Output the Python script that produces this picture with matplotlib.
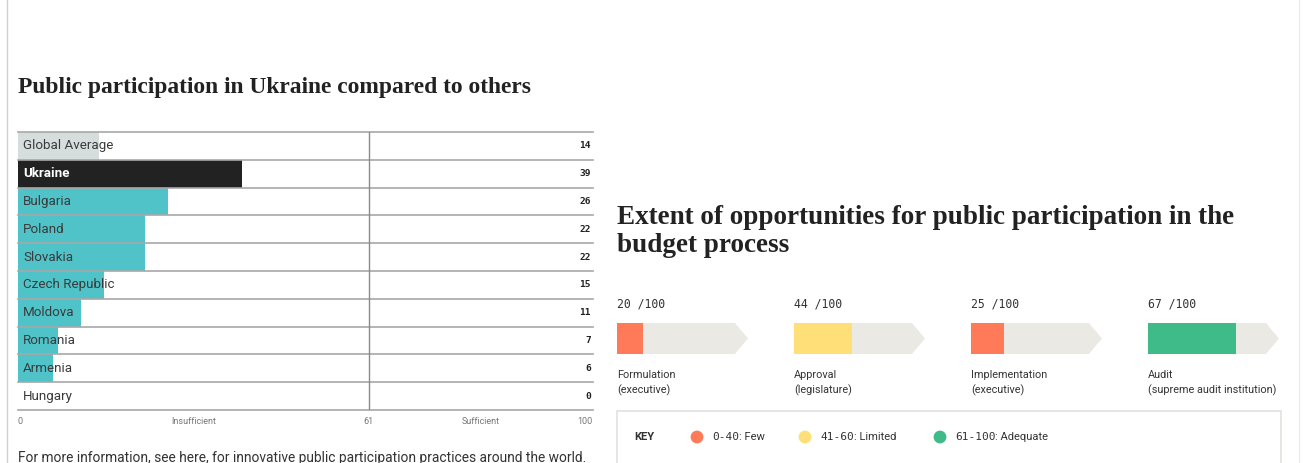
import matplotlib
matplotlib.use("Agg")
import matplotlib.pyplot as plt
from matplotlib.patches import Polygon, Rectangle

# left chart data
countries = ["Global Average", "Ukraine", "Bulgaria", "Poland", "Slovakia",
             "Czech Republic", "Moldova", "Romania", "Armenia", "Hungary"]
scores = [14, 39, 26, 22, 22, 15, 11, 7, 6, 0]
bar_colors = ["#d5dedd", "#222222"] + ["#50c3c9"] * 8
threshold = 61

# right chart data
stages = ["Formulation", "Approval", "Implementation", "Audit"]
stage_sub = ["(executive)", "(legislature)", "(executive)", "(supreme audit institution)"]
stage_scores = [20, 44, 25, 67]
key_ranges = ["0-40", "41-60", "61-100"]
key_names = [": Few", ": Limited", ": Adequate"]
key_colors = ["#ff7a59", "#ffdf78", "#3fba89"]


def band_color(v):
    if v <= 40:
        return key_colors[0]
    if v <= 60:
        return key_colors[1]
    return key_colors[2]


W, H = 1304, 463
fig = plt.figure(figsize=(W / 100, H / 100), dpi=100)
fig.patch.set_facecolor("white")


def box(x0, y0, x1, y1):
    # pixel box (top-left origin) -> figure rect
    return [x0 / W, 1 - y1 / H, (x1 - x0) / W, (y1 - y0) / H]


sans = "Roboto"
serif = "Liberation Serif"
mono = "DejaVu Sans Mono"

# page borders
fig.add_artist(plt.Line2D([7 / W, 7 / W], [0, 1], color="#cfcfcf", lw=1))
fig.add_artist(plt.Line2D([1299 / W, 1299 / W], [0, 1], color="#ececec", lw=1))

# ---------- left: horizontal bars ----------
fig.text(18 / W, 1 - 87 / H, "Public participation in Ukraine compared to others",
         fontsize=16.9, fontweight="bold", family=serif, color="#222222",
         ha="left", va="center")

ax = fig.add_axes(box(18, 132, 593, 410))
y = list(range(len(countries)))
ax.barh(y, scores, height=1.0, color=bar_colors, zorder=1)
ax.set_xlim(0, 100)
ax.set_ylim(len(countries) - 0.5, -0.5)
for i in range(len(countries) + 1):
    ax.axhline(i - 0.5, color="#a8a8a8", lw=1.2, zorder=2, clip_on=False)
ax.axvline(threshold, color="#8a8a8a", lw=1, zorder=2)
for i, (c, s) in enumerate(zip(countries, scores)):
    ax.text(0.9, i, c, fontsize=9.6, family=sans, va="center", ha="left",
            color="white" if c == "Ukraine" else "#3a3a3a",
            fontweight="bold" if c == "Ukraine" else "normal", zorder=3)
    ax.text(99.6, i, str(s), fontsize=6.8, family=mono, fontweight="bold",
            va="center", ha="right", color="#222222", zorder=3)
ax.axis("off")

# scale labels under the bars
lab_kw = dict(fontsize=6.5, family=sans, color="#777777", va="center",
              transform=ax.get_xaxis_transform())
ty = -11 / 278
ax.text(0, ty, "0", ha="left", **lab_kw)
ax.text(threshold / 2, ty, "Insufficient", ha="center", **lab_kw)
ax.text(threshold, ty, str(threshold), ha="center", **lab_kw)
ax.text((threshold + 100) / 2, ty, "Sufficient", ha="center", **lab_kw)
ax.text(100, ty, "100", ha="right", **lab_kw)

fig.text(18 / W, 1 - 458 / H,
         "For more information, see here, for innovative public participation practices around the world.",
         fontsize=9.95, family=sans, color="#333333", ha="left", va="center")

# ---------- right: stage arrows ----------
fig.text(617 / W, 1 - 218 / H, "Extent of opportunities for public participation in the",
         fontsize=19.5, fontweight="bold", family=serif, color="#222222",
         ha="left", va="center")
fig.text(617 / W, 1 - 246 / H, "budget process",
         fontsize=19.5, fontweight="bold", family=serif, color="#222222",
         ha="left", va="center")

x0 = 617
step = 177
for k, (name, sub, v) in enumerate(zip(stages, stage_sub, stage_scores)):
    left = x0 + k * step
    a = fig.add_axes(box(left, 323, left + 131, 354))
    a.set_xlim(0, 100)
    a.set_ylim(0, 1)
    a.add_patch(Polygon([(0, 0), (90, 0), (100, 0.5), (90, 1), (0, 1)],
                        closed=True, facecolor="#ebe9e4", edgecolor="none"))
    a.barh(0.5, v, height=1.0, left=0, color=band_color(v), zorder=2)
    a.axis("off")
    a.text(0, 1 + 19 / 31, f"{v} /100", family=mono, fontsize=8.3,
           color="#333333", ha="left", va="center", transform=a.transAxes)
    a.text(0, -21 / 31, name, family=sans, fontsize=7.8, color="#333333",
           ha="left", va="center", transform=a.transAxes)
    a.text(0, -36 / 31, sub, family=sans, fontsize=7.8, color="#333333",
           ha="left", va="center", transform=a.transAxes)

# key box
kax = fig.add_axes(box(617, 411, 1281, 463))
kax.set_xlim(617, 1281)
kax.set_ylim(463, 411)
kax.axis("off")
kax.add_patch(Rectangle((617, 411), 1281 - 617, 70, facecolor="white",
                        edgecolor="#e4e2dd", lw=1.2, clip_on=False, zorder=0))
kax.text(634, 437, "KEY", family=sans, fontweight="bold",
         fontsize=8, color="#333333", ha="left", va="center")

key_x = [697, 805, 940]
fig.canvas.draw()
renderer = fig.canvas.get_renderer()
for kx, r, n, c in zip(key_x, key_ranges, key_names, key_colors):
    kax.scatter([kx], [437], s=85, color=c, edgecolor="none", zorder=3)
    t = kax.text(kx + 15, 437, r, family=mono, fontsize=8,
                 color="#333333", ha="left", va="center", zorder=3)
    bb = t.get_window_extent(renderer=renderer)
    fig.text(bb.x1 / W, 1 - 437 / H, n, family=sans,
             fontsize=8, color="#333333", ha="left", va="center")

fig.savefig("out.png", dpi=100, facecolor="white")
